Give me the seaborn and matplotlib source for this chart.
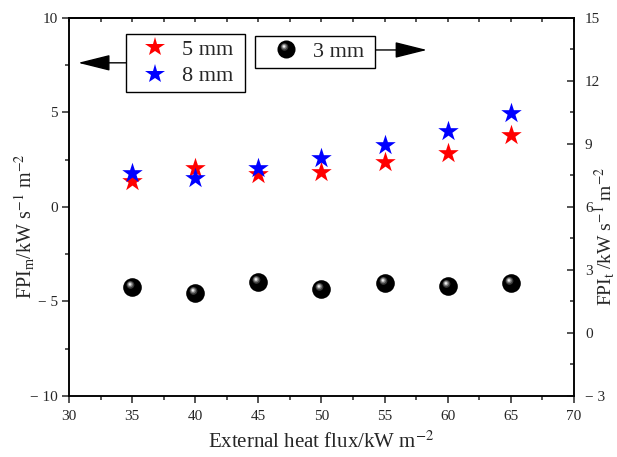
import matplotlib
matplotlib.use('Agg')
import matplotlib.pyplot as plt
from matplotlib.path import Path
from matplotlib.lines import Line2D
from matplotlib.legend_handler import HandlerTuple
from matplotlib.patches import ArrowStyle
from matplotlib.ticker import MultipleLocator, FuncFormatter
import seaborn as sns

# Data
flux = [35, 40, 45, 50, 55, 60, 65]
fpi_5mm = [1.37, 2.04, 1.72, 1.84, 2.38, 2.87, 3.79]
fpi_8mm = [1.77, 1.54, 2.07, 2.61, 3.28, 4.00, 4.96]
fpi_3mm = [2.17, 1.92, 2.43, 2.11, 2.39, 2.23, 2.36]

sns.set_style('ticks')
plt.rcParams['font.family'] = ['Liberation Serif', 'DejaVu Serif']
plt.rcParams['mathtext.fontset'] = 'stix'

fig = plt.figure(figsize=(6.17, 4.57), dpi=100)
fig.subplots_adjust(left=0.112, right=0.930, bottom=0.1335, top=0.961)
ax = fig.add_subplot(111)
ax2 = ax.twinx()


# sphere-like marker: black ball + offset highlight layers
def blob(cx, cy, r):
    box = Path([(-1, -1), (1, 1)], [Path.MOVETO, Path.MOVETO])
    return Path.make_compound_path(box, Path.circle((cx, cy), r))


ball_layers = [
    (Path.unit_circle(), 'black'),
    (blob(-0.22, 0.28, 0.42), '#3a3a3a'),
    (blob(-0.25, 0.32, 0.30), '#7a7a7a'),
    (blob(-0.27, 0.34, 0.18), '#c8c8c8'),
    (blob(-0.28, 0.35, 0.08), 'white'),
]

sns.scatterplot(x=flux, y=fpi_5mm, ax=ax, marker='*', s=240, color='red', linewidth=0, zorder=3)
sns.scatterplot(x=flux, y=fpi_8mm, ax=ax, marker='*', s=240, color='blue', linewidth=0, zorder=4)
for mk, c in ball_layers:
    sns.scatterplot(x=flux, y=fpi_3mm, ax=ax2, marker=mk, s=180, color=c, linewidth=0, zorder=3)

ax.set_xlim(30, 70)
ax.set_ylim(-10, 10)
ax2.set_ylim(-3, 15)

ax.xaxis.set_major_locator(MultipleLocator(5))
ax.xaxis.set_minor_locator(MultipleLocator(2.5))
ax.yaxis.set_major_locator(MultipleLocator(5))
ax.yaxis.set_minor_locator(MultipleLocator(2.5))
ax2.yaxis.set_major_locator(MultipleLocator(3))
ax2.yaxis.set_minor_locator(MultipleLocator(1.5))


def fmt(v, pos):
    if v < 0:
        return '\u2212 %g' % abs(v)
    return '%g' % v


ax.yaxis.set_major_formatter(FuncFormatter(fmt))
ax2.yaxis.set_major_formatter(FuncFormatter(fmt))

for a in (ax, ax2):
    for s in a.spines.values():
        s.set_linewidth(1.1)
        s.set_color('black')

ax.tick_params(axis='x', which='major', direction='out', length=5, width=1.1, labelsize=11, pad=5, top=False)
ax.tick_params(axis='x', which='minor', direction='out', length=3, width=1.1, top=False)
ax.tick_params(axis='y', which='major', direction='out', length=5, width=1.1, labelsize=11, pad=3, right=False)
ax.tick_params(axis='y', which='minor', direction='out', length=3, width=1.1, right=False)
ax2.tick_params(axis='y', which='major', direction='in', length=5, width=1.1, labelsize=11, pad=8)
ax2.tick_params(axis='y', which='minor', direction='in', length=3, width=1.1)

# mirrored top ticks (inward)
top = ax.secondary_xaxis('top')
top.xaxis.set_major_locator(MultipleLocator(5))
top.xaxis.set_minor_locator(MultipleLocator(2.5))
top.tick_params(which='both', direction='in', length=3, width=1.1, labeltop=False)
top.spines['top'].set_linewidth(1.1)

ax.set_xlabel(r'External heat flux/kW m$^{-2}$', fontsize=15, labelpad=6)
ax.set_ylabel(r'$\mathregular{FPI_m}$/kW s$^{-1}$ m$^{-2}$', fontsize=14.5)
ax2.set_ylabel(r'$\mathregular{FPI_t}$ /kW s$^{-1}$ m$^{-2}$', fontsize=14)
ax.yaxis.set_label_coords(-0.064, 0.45)
ax2.yaxis.set_label_coords(1.036, 0.423)

# legends
star_kw = dict(marker='*', linestyle='none', markersize=15, markeredgewidth=0)
h5 = Line2D([], [], color='red', **star_kw)
h8 = Line2D([], [], color='blue', **star_kw)
h3 = tuple(Line2D([], [], marker=mk, color=c, linestyle='none', markersize=13, markeredgewidth=0)
           for mk, c in ball_layers)

leg_kw = dict(frameon=True, fancybox=False, edgecolor='black', framealpha=1, fontsize=16,
              borderaxespad=0, borderpad=0.25, labelspacing=0.27)
leg1 = ax2.legend([h5, h8], ['5 mm ', '8 mm '], loc='upper left', bbox_to_anchor=(0.113, 0.958),
                  handlelength=2.1, handletextpad=0.18, **leg_kw)
leg1.get_frame().set_linewidth(1.0)
ax2.add_artist(leg1)
leg2 = ax2.legend([h3], ['3 mm '], loc='upper left', bbox_to_anchor=(0.368, 0.952),
                  handlelength=2.3, handletextpad=0.05,
                  handler_map={tuple: HandlerTuple(ndivide=1, pad=0)}, **leg_kw)
leg2.get_frame().set_linewidth(1.0)

arrow = ArrowStyle('-|>', head_length=2.0, head_width=0.5)
ax2.annotate('', xy=(0.018, 0.881), xytext=(0.113, 0.881), xycoords='axes fraction',
             arrowprops=dict(arrowstyle=arrow, mutation_scale=10, color='black', lw=1.0,
                             shrinkA=0, shrinkB=0))
ax2.annotate('', xy=(0.709, 0.915), xytext=(0.608, 0.915), xycoords='axes fraction',
             arrowprops=dict(arrowstyle=arrow, mutation_scale=10, color='black', lw=1.0,
                             shrinkA=0, shrinkB=0))

fig.savefig('out.png', dpi=100)
